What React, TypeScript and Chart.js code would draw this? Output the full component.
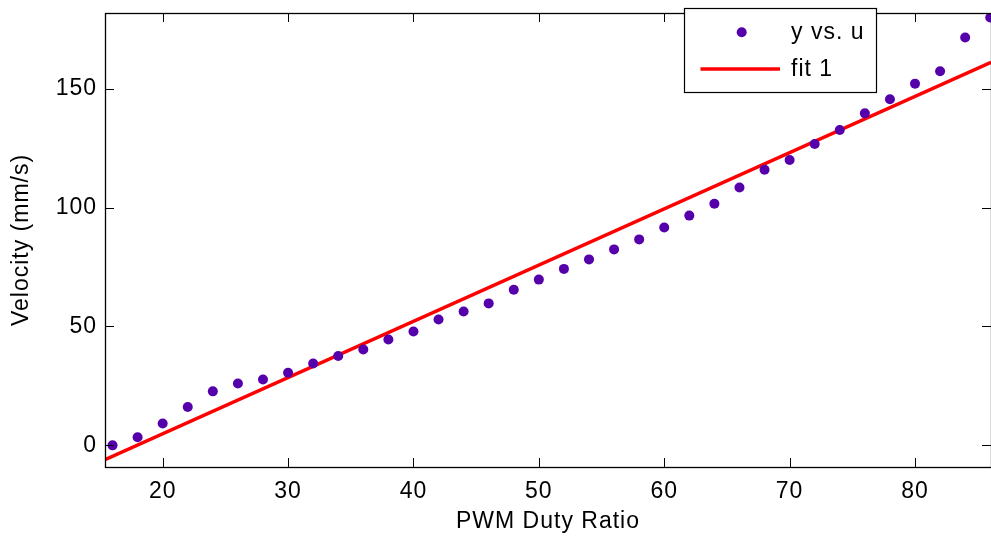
import { useEffect, useRef } from "react";
import { Chart, registerables } from "chart.js";

Chart.register(...registerables);

// ---- data ----
const dutyRatio = [16, 18, 20, 22, 24, 26, 28, 30, 32, 34, 36, 38, 40, 42, 44, 46, 48, 50, 52, 54, 56, 58, 60, 62, 64, 66, 68, 70, 72, 74, 76, 78, 80, 82, 84, 86];
const velocity = [0.0, 3.4, 9.2, 16.1, 22.7, 26.0, 27.7, 30.5, 34.4, 37.6, 40.3, 44.5, 47.9, 52.9, 56.3, 59.7, 65.4, 69.7, 74.2, 78.2, 82.4, 86.6, 91.6, 96.6, 101.6, 108.4, 115.9, 120.0, 126.7, 132.6, 139.6, 145.5, 152.1, 157.3, 171.5, 179.9];
const fitX = [15.4, 86.06];
const fitY = [-6.0, 161.1];
const seriesLabels = ["y vs. u", "fit 1"];
const xTitle = "PWM Duty Ratio";
const yTitle = "Velocity (mm/s)";
const xRange = [15.4, 86.06];
const yRange = [-9.1, 181.8];

const FONT = "'Liberation Sans', Arial, Helvetica, sans-serif";
const DOT = "rgb(85,0,170)";
const RED = "#ff0000";

const boxPlugin = {
  id: "matlabBox",
  beforeDraw(chart: any) {
    const ctx = chart.ctx;
    ctx.save();
    ctx.fillStyle = "#fff";
    ctx.fillRect(0, 0, chart.width, chart.height);
    ctx.restore();
    try {
      ctx.letterSpacing = "1px";
    } catch (e) {}
  },
  afterDraw(chart: any) {
    const ctx = chart.ctx;
    const { left, right, top, bottom } = chart.chartArea;
    const xs = chart.scales.x;
    const ys = chart.scales.y;
    const tl = 9;
    ctx.save();
    ctx.strokeStyle = "#000";
    ctx.lineWidth = 1;
    ctx.beginPath();
    xs.ticks.forEach((t: any) => {
      const px = Math.round(xs.getPixelForValue(t.value)) + 0.5;
      ctx.moveTo(px, bottom);
      ctx.lineTo(px, bottom - tl);
      ctx.moveTo(px, top);
      ctx.lineTo(px, top + tl);
    });
    ys.ticks.forEach((t: any) => {
      const py = Math.round(ys.getPixelForValue(t.value)) + 0.5;
      ctx.moveTo(left, py);
      ctx.lineTo(left + tl, py);
      ctx.moveTo(right, py);
      ctx.lineTo(right - tl, py);
    });
    ctx.stroke();
    ctx.lineWidth = 1.3;
    ctx.strokeRect(Math.round(left) + 0.5, Math.round(top) + 0.5, Math.round(right - left), Math.round(bottom - top));

    // legend
    const bx = 684.5, by = 8.5, bw = 192, bh = 84;
    ctx.fillStyle = "#fff";
    ctx.fillRect(bx, by, bw, bh);
    ctx.lineWidth = 1.2;
    ctx.strokeStyle = "#000";
    ctx.strokeRect(bx, by, bw, bh);
    ctx.fillStyle = DOT;
    ctx.beginPath();
    ctx.arc(741.7, 32.3, 5, 0, Math.PI * 2);
    ctx.fill();
    ctx.strokeStyle = RED;
    ctx.lineWidth = 3.5;
    ctx.beginPath();
    ctx.moveTo(700.5, 69);
    ctx.lineTo(780, 69);
    ctx.stroke();
    ctx.fillStyle = "#000";
    ctx.font = `23px ${FONT}`;
    ctx.textAlign = "left";
    ctx.textBaseline = "middle";
    ctx.fillText(chart.data.datasets[0].label, 791, 33);
    ctx.fillText(chart.data.datasets[1].label, 791, 70);
    ctx.restore();
  },
};

export default function App() {
  const ref = useRef<HTMLCanvasElement | null>(null);

  useEffect(() => {
    if (!ref.current) return;
    document.body.style.margin = "0";
    const chart = new Chart(ref.current, {
      type: "scatter",
      data: {
        datasets: [
          {
            label: seriesLabels[0],
            data: dutyRatio.map((x, i) => ({ x, y: velocity[i] })),
            showLine: false,
            pointRadius: 5,
            pointHoverRadius: 5,
            pointBackgroundColor: DOT,
            pointBorderWidth: 0,
            borderColor: DOT,
            order: 1,
          },
          {
            label: seriesLabels[1],
            data: fitX.map((x, i) => ({ x, y: fitY[i] })),
            showLine: true,
            borderColor: RED,
            borderWidth: 3.5,
            pointRadius: 0,
            pointHoverRadius: 0,
            order: 2,
          },
        ],
      },
      options: {
        animation: false,
        responsive: false,
        events: [],
        layout: { autoPadding: false, padding: { left: 0, right: 0, top: 13, bottom: 0 } },
        plugins: { legend: { display: false }, tooltip: { enabled: false } },
        scales: {
          x: {
            type: "linear",
            min: xRange[0],
            max: xRange[1],
            border: { display: false },
            grid: { display: false, drawTicks: false, tickLength: 0 },
            ticks: {
              stepSize: 10,
              includeBounds: false,
              color: "#000",
              font: { size: 23, family: FONT },
              padding: 11,
              maxRotation: 0,
              autoSkip: false,
            },
            title: {
              display: true,
              text: xTitle,
              color: "#000",
              font: { size: 23, family: FONT },
              padding: { top: 0, bottom: 1 },
            },
            afterFit: (s: any) => {
              s.height = 69;
              s.paddingLeft = 0;
              s.paddingRight = 0;
            },
          },
          y: {
            type: "linear",
            min: yRange[0],
            max: yRange[1],
            border: { display: false },
            grid: { display: false, drawTicks: false, tickLength: 0 },
            ticks: {
              stepSize: 50,
              includeBounds: false,
              color: "#000",
              font: { size: 23, family: FONT },
              padding: 8,
              autoSkip: false,
            },
            title: {
              display: true,
              text: yTitle,
              color: "#000",
              font: { size: 23, family: FONT },
              padding: { top: 8, bottom: 0 },
            },
            afterFit: (s: any) => {
              s.width = 105;
              s.paddingTop = 0;
              s.paddingBottom = 0;
            },
          },
        },
      },
      plugins: [boxPlugin],
    } as any);
    return () => chart.destroy();
  }, []);

  return (
    <div style={{ position: "fixed", left: 0, top: 0, width: 991, height: 536, background: "#fff" }}>
      <canvas ref={ref} width={991} height={536} style={{ display: "block" }} />
    </div>
  );
}
